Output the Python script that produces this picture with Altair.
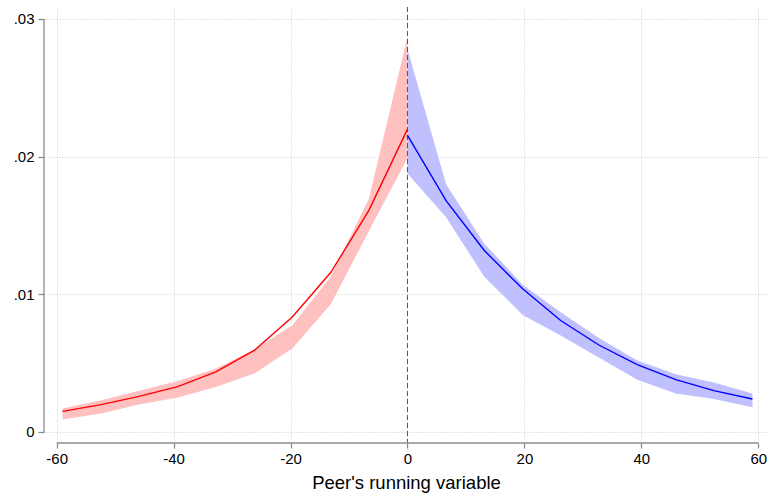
import altair as alt
import pandas as pd

# Left of cutoff (red)
x_left = [-59.0, -52.4, -45.9, -39.3, -32.8, -26.2, -19.7, -13.1, -6.6, 0.0]
red_fit = [0.00150, 0.00199, 0.00259, 0.00330, 0.00436, 0.00593, 0.00835, 0.01160, 0.01610, 0.02200]
red_hi = [0.00170, 0.00230, 0.00300, 0.00370, 0.00460, 0.00600, 0.00775, 0.01130, 0.01695, 0.02870]
red_lo = [0.00090, 0.00134, 0.00200, 0.00250, 0.00327, 0.00424, 0.00606, 0.00930, 0.01460, 0.01990]

# Right of cutoff (blue)
x_right = [0.0, 6.6, 13.1, 19.7, 26.2, 32.8, 39.3, 45.9, 52.4, 59.0]
blue_fit = [0.02155, 0.01680, 0.01320, 0.01040, 0.00810, 0.00630, 0.00490, 0.00380, 0.00300, 0.00240]
blue_hi = [0.02780, 0.01800, 0.01370, 0.01070, 0.00870, 0.00680, 0.00520, 0.00420, 0.00360, 0.00280]
blue_lo = [0.01877, 0.01560, 0.01130, 0.00850, 0.00700, 0.00540, 0.00380, 0.00280, 0.00240, 0.00180]

x_ticks = [-60, -40, -20, 0, 20, 40, 60]
y_ticks = [0, 0.01, 0.02, 0.03]
x_title = "Peer's running variable"

X_DOM = [-62.17, 61.66]
Y_DOM = [-0.0008, 0.03087]

left = pd.DataFrame({"x": x_left, "fit": red_fit, "hi": red_hi, "lo": red_lo})
right = pd.DataFrame({"x": x_right, "fit": blue_fit, "hi": blue_hi, "lo": blue_lo})

xs = alt.Scale(domain=X_DOM, nice=False, zero=False)
ys = alt.Scale(domain=Y_DOM, nice=False, zero=False)

x_axis = alt.Axis(values=x_ticks, title=x_title, domain=False, tickSize=5,
                  labelPadding=3, titlePadding=7,
                  labelExpr="replace(format(datum.value, 'd'), '\u2212', '-')")
y_axis = alt.Axis(values=y_ticks, title=None, domain=False, tickSize=6,
                  labelPadding=4,
                  labelExpr="datum.value == 0 ? '0' : replace(format(datum.value, '.2f'), '0.', '.')")

X = alt.X("x:Q", scale=xs, axis=x_axis)
Y = alt.Y("lo:Q", scale=ys, axis=y_axis)

band_l = alt.Chart(left).mark_area(color="#ffc0c0", opacity=1).encode(x=X, y=Y, y2="hi:Q")
band_r = alt.Chart(right).mark_area(color="#c0c0ff", opacity=1).encode(x=X, y=Y, y2="hi:Q")

line_l = alt.Chart(left).mark_line(color="#ff0000", strokeWidth=1.4).encode(
    x=alt.X("x:Q", scale=xs), y=alt.Y("fit:Q", scale=ys))
line_r = alt.Chart(right).mark_line(color="#0000ff", strokeWidth=1.4).encode(
    x=alt.X("x:Q", scale=xs), y=alt.Y("fit:Q", scale=ys))

cutoff = alt.Chart(pd.DataFrame({"c": [0]})).mark_rule(
    color="#555555", strokeDash=[5, 3], strokeWidth=1).encode(
    x=alt.X("c:Q", scale=xs))

yaxis_line = alt.Chart(pd.DataFrame({"x": [X_DOM[0]], "y0": [y_ticks[0]], "y1": [y_ticks[-1]]})).mark_rule(
    color="#8c8c8c", strokeWidth=1.3).encode(
    x=alt.X("x:Q", scale=xs), y=alt.Y("y0:Q", scale=ys), y2="y1:Q")
xaxis_line = alt.Chart(pd.DataFrame({"x0": [x_ticks[0]], "x1": [x_ticks[-1]], "y": [Y_DOM[0]]})).mark_rule(
    color="#8c8c8c", strokeWidth=1.3).encode(
    x=alt.X("x0:Q", scale=xs), x2="x1:Q", y=alt.Y("y:Q", scale=ys))

chart = alt.layer(band_l, band_r, cutoff, line_l, line_r, yaxis_line, xaxis_line).properties(
    width=724, height=436,
    padding={"left": 44, "top": 7, "right": 0, "bottom": 57},
    autosize="none",
    background="white",
).configure_view(stroke=None).configure_axis(
    grid=True, gridColor="#c8c8c8", gridDash=[1, 2], gridWidth=1,
    tickColor="#8c8c8c", tickWidth=1.3,
    labelFont="Liberation Sans", labelFontSize=15, labelColor="#000000",
    titleFont="Liberation Sans", titleFontSize=18.5, titleFontWeight="normal", titleColor="#000000",
)

chart.save("out.html", embed_options={"renderer": "svg", "actions": False})
